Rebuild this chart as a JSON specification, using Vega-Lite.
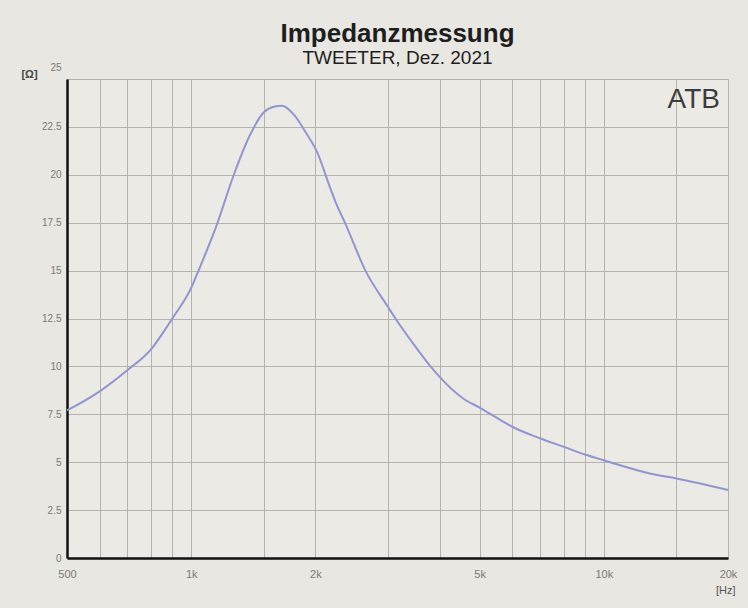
{
  "$schema": "https://vega.github.io/schema/vega-lite/v6.json",
  "width": 661,
  "height": 479,
  "autosize": {"type": "none"},
  "padding": {"left": 67, "top": 79, "right": 20, "bottom": 50},
  "background": "#e8e7e1",
  "title": {
    "text": "Impedanzmessung",
    "subtitle": "TWEETER, Dez. 2021",
    "anchor": "middle",
    "frame": "group",
    "font": "Liberation Sans, Arial",
    "fontSize": 26,
    "fontWeight": "bold",
    "color": "#1e1e1e",
    "subtitleFont": "Liberation Sans, Arial",
    "subtitleFontSize": 19,
    "subtitleColor": "#1e1e1e",
    "subtitlePadding": 2,
    "offset": -6
  },
  "config": {
    "view": {"stroke": "#a9a9a3", "strokeWidth": 1, "fill": "#eceae4"},
    "axis": {"labelFont": "Liberation Sans, Arial", "titleFont": "Liberation Sans, Arial"}
  },
  "data": {
    "values": [
      {"f": 500, "z": 7.7},
      {"f": 600, "z": 8.7},
      {"f": 700, "z": 9.8},
      {"f": 800, "z": 10.9},
      {"f": 857, "z": 11.8},
      {"f": 900, "z": 12.5},
      {"f": 1000, "z": 14.1},
      {"f": 1051, "z": 15.2},
      {"f": 1154, "z": 17.4},
      {"f": 1266, "z": 19.95},
      {"f": 1390, "z": 22.1},
      {"f": 1498, "z": 23.25},
      {"f": 1584, "z": 23.55},
      {"f": 1660, "z": 23.6},
      {"f": 1771, "z": 23.15},
      {"f": 1909, "z": 22.1},
      {"f": 2018, "z": 21.2},
      {"f": 2173, "z": 19.3},
      {"f": 2236, "z": 18.6},
      {"f": 2364, "z": 17.45},
      {"f": 2644, "z": 15.0},
      {"f": 3000, "z": 13.1},
      {"f": 3126, "z": 12.5},
      {"f": 3463, "z": 11.15},
      {"f": 3802, "z": 10.0},
      {"f": 4000, "z": 9.45},
      {"f": 4580, "z": 8.3},
      {"f": 5000, "z": 7.85},
      {"f": 5620, "z": 7.2},
      {"f": 6000, "z": 6.85},
      {"f": 7000, "z": 6.25},
      {"f": 8000, "z": 5.8},
      {"f": 9000, "z": 5.4},
      {"f": 10000, "z": 5.1},
      {"f": 13000, "z": 4.4},
      {"f": 15000, "z": 4.15},
      {"f": 20000, "z": 3.55}
    ]
  },
  "layer": [
    {
      "mark": {"type": "line", "color": "#9196d2", "strokeWidth": 2, "interpolate": "monotone"},
      "encoding": {
        "x": {
          "field": "f",
          "type": "quantitative",
          "scale": {"type": "log", "domain": [500, 20000], "nice": false},
          "axis": {
            "values": [500, 600, 700, 800, 900, 1000, 1500, 2000, 3000, 4000, 5000, 6000, 7000, 8000, 9000, 10000, 15000, 20000],
            "labelExpr": "indexof([500,1000,2000,5000,10000,20000], datum.value) >= 0 ? (datum.value >= 1000 ? (datum.value/1000) + 'k' : datum.value + '') : ''",
            "grid": true,
            "gridColor": "#b3b3ad",
            "gridWidth": 1,
            "ticks": false,
            "domainColor": "#111111",
            "domainWidth": 2.5,
            "labelColor": "#7a7a7a",
            "labelFontSize": 11,
            "labelPadding": 10,
            "labelFlush": false,
            "labelOverlap": false,
            "title": "[Hz]",
            "titleX": 668,
            "titleY": 32,
            "titleAlign": "right",
            "titleBaseline": "middle",
            "titleFontWeight": "normal",
            "titleFontSize": 11,
            "titleColor": "#555555"
          }
        },
        "y": {
          "field": "z",
          "type": "quantitative",
          "scale": {"domain": [0, 25], "nice": false},
          "axis": {
            "values": [0, 2.5, 5, 7.5, 10, 12.5, 15, 17.5, 20, 22.5, 25],
            "labelExpr": "'' + datum.value",
            "grid": true,
            "gridColor": "#b3b3ad",
            "gridWidth": 1,
            "ticks": false,
            "domainColor": "#111111",
            "domainWidth": 2.5,
            "labelColor": "#7a7a7a",
            "labelFontSize": 10,
            "labelPadding": 6,
            "labelFlush": false,
            "labelOffset": {"condition": {"test": "datum.value == 25", "value": -12}, "value": 0},
            "title": "[Ω]",
            "titleAngle": 0,
            "titleX": -38,
            "titleY": -5,
            "titleAlign": "center",
            "titleBaseline": "middle",
            "titleFontWeight": "bold",
            "titleFontSize": 11,
            "titleColor": "#444444"
          }
        }
      }
    },
    {
      "data": {"values": [{"label": "ATB"}]},
      "mark": {"type": "text", "align": "right", "baseline": "top", "dx": -8, "dy": 7, "fontSize": 28, "font": "Liberation Sans, Arial", "color": "#3c3c3c"},
      "encoding": {
        "x": {"datum": 20000},
        "y": {"datum": 25},
        "text": {"field": "label"}
      }
    }
  ]
}
